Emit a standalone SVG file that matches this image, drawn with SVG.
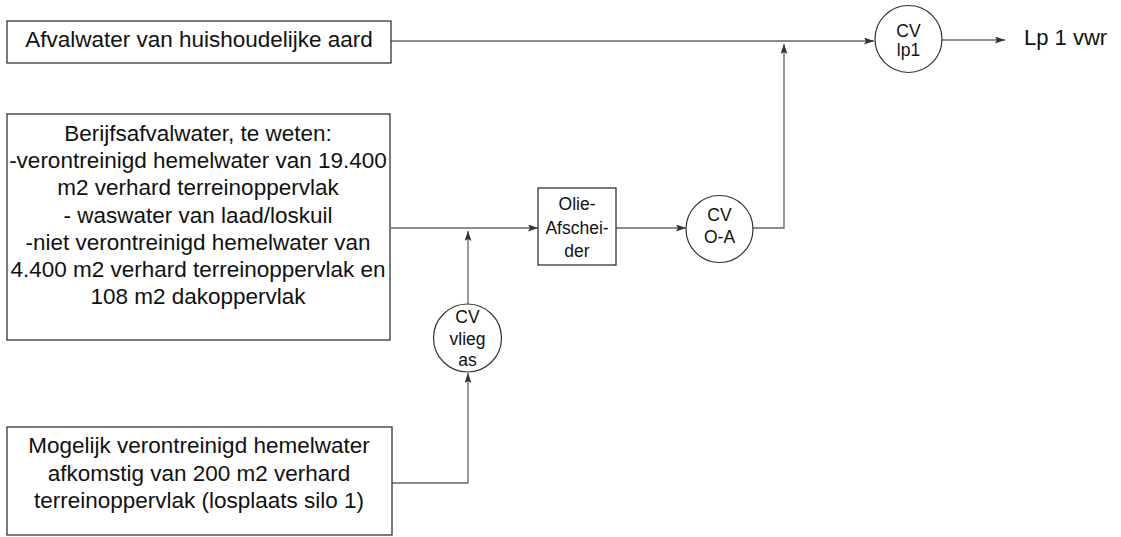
<svg xmlns="http://www.w3.org/2000/svg" width="1121" height="537" viewBox="0 0 1121 537">
<defs>
<marker id="arr" markerUnits="userSpaceOnUse" markerWidth="11" markerHeight="8" refX="10" refY="3.5" orient="auto">
<path d="M0,0 L10,3.5 L0,7 L2,3.5 z" fill="#333"/>
</marker>
<style>
.box{fill:#fff;stroke:#333;stroke-width:1.3}
.circ{fill:#fff;stroke:#333;stroke-width:1.2}
.ln{fill:none;stroke:#666;stroke-width:1.3;marker-end:url(#arr)}
.t{font-family:"Liberation Sans",Arial,sans-serif;font-size:22.5px;fill:#111;text-anchor:middle}
.s{font-family:"Liberation Sans",Arial,sans-serif;font-size:17.5px;fill:#111;text-anchor:middle}
</style>
</defs>
<rect width="1121" height="537" fill="#fff"/>
<g id="connectors">
<path class="ln" d="M391,41 H874"/>
<path class="ln" d="M942,40 H1005"/>
<path class="ln" d="M391,228 H538"/>
<path class="ln" d="M468,304 V231"/>
<path class="ln" d="M392,483 H468 V373"/>
<path class="ln" d="M616,228 H686"/>
<path class="ln" d="M753,228 H784 V44"/>
</g>
<g id="box-huishoudelijk">
<rect class="box" x="7" y="21" width="384" height="42"/>
<text class="t" x="199" y="47">Afvalwater van huishoudelijke aard</text>
</g>
<g id="box-bedrijfsafvalwater">
<rect class="box" x="7" y="114" width="383" height="226"/>
<text class="t" x="198" y="141">Berijfsafvalwater, te weten:</text>
<text class="t" x="198" y="168">-verontreinigd hemelwater van 19.400</text>
<text class="t" x="198" y="195">m2 verhard terreinoppervlak</text>
<text class="t" x="198" y="222.5">- waswater van laad/loskuil</text>
<text class="t" x="198" y="249.5">-niet verontreinigd hemelwater van</text>
<text class="t" x="198" y="277">4.400 m2 verhard terreinoppervlak en</text>
<text class="t" x="198" y="304">108 m2 dakoppervlak</text>
</g>
<g id="box-hemelwater">
<rect class="box" x="7" y="427" width="385" height="108"/>
<text class="t" x="199" y="453">Mogelijk verontreinigd hemelwater</text>
<text class="t" x="199" y="480.5">afkomstig van 200 m2 verhard</text>
<text class="t" x="199" y="508">terreinoppervlak (losplaats silo 1)</text>
</g>
<g id="olie-afscheider">
<rect class="box" x="538" y="188" width="78" height="77"/>
<text class="s" x="577" y="210">Olie-</text>
<text class="s" x="577" y="234">Afschei-</text>
<text class="s" x="577" y="257">der</text>
</g>
<g id="cv-vliegas">
<circle class="circ" cx="467.5" cy="338" r="34"/>
<text class="s" x="467.5" y="323">CV</text>
<text class="s" x="467.5" y="345">vlieg</text>
<text class="s" x="467.5" y="366">as</text>
</g>
<g id="cv-oa">
<circle class="circ" cx="719.5" cy="229" r="33.5"/>
<text class="s" x="719.5" y="221">CV</text>
<text class="s" x="719.5" y="243">O-A</text>
</g>
<g id="cv-lp1">
<circle class="circ" cx="908.5" cy="39" r="33.5"/>
<text class="s" x="908.5" y="36.5">CV</text>
<text class="s" x="908.5" y="56">lp1</text>
</g>
<g id="lp1-vwr">
<text x="1024" y="45" font-family="Liberation Sans, Arial, sans-serif" font-size="22" fill="#111">Lp 1 vwr</text>
</g>
</svg>
